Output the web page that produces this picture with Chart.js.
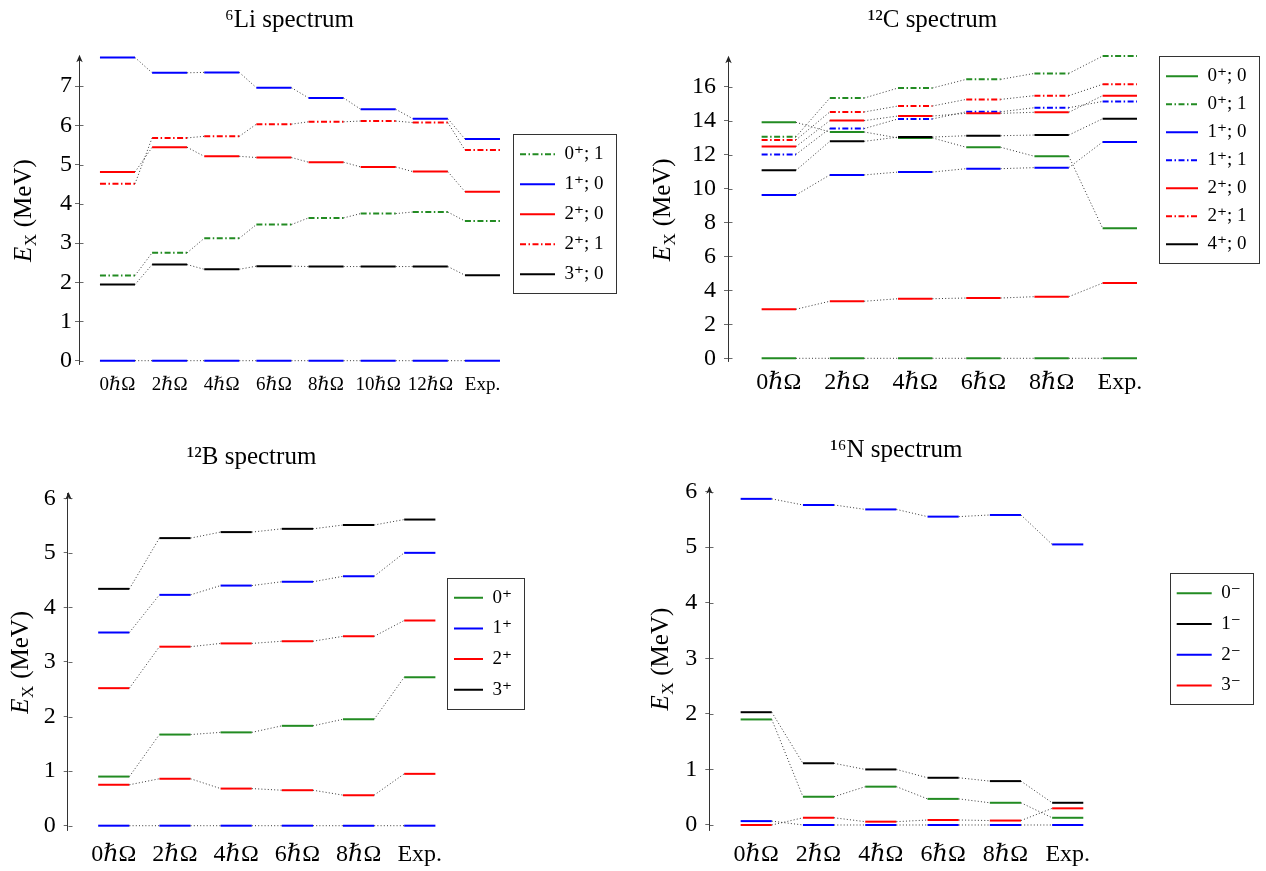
<!DOCTYPE html>
<html><head><meta charset="utf-8">
<script src="https://cdn.jsdelivr.net/npm/chart.js@4.4.0/dist/chart.umd.min.js"></script>
<style>
html,body{margin:0;padding:0;background:#fff;}
body{width:1266px;height:871px;position:relative;overflow:hidden;}
canvas{position:absolute;}
</style></head><body>
<canvas id="cLi" width="633" height="425" style="left:0px;top:0px;width:633px;height:425px"></canvas>
<canvas id="cC" width="633" height="425" style="left:633px;top:0px;width:633px;height:425px"></canvas>
<canvas id="cB" width="633" height="441" style="left:0px;top:430px;width:633px;height:441px"></canvas>
<canvas id="cN" width="633" height="441" style="left:633px;top:430px;width:633px;height:441px"></canvas>
<script>
// ---------- data ----------
const liCats = ['0ℏΩ','2ℏΩ','4ℏΩ','6ℏΩ','8ℏΩ','10ℏΩ','12ℏΩ','Exp.'];
const li_0p1 = [2.17, 2.75, 3.12, 3.47, 3.64, 3.75, 3.79, 3.56];
const li_1p0_ground = [0, 0, 0, 0, 0, 0, 0, 0];
const li_1p0 = [7.73, 7.34, 7.35, 6.96, 6.70, 6.41, 6.17, 5.65];
const li_2p0 = [4.81, 5.44, 5.21, 5.18, 5.06, 4.94, 4.82, 4.31];
const li_2p1 = [4.51, 5.68, 5.72, 6.03, 6.09, 6.11, 6.07, 5.37];
const li_3p0 = [1.94, 2.45, 2.33, 2.41, 2.40, 2.40, 2.40, 2.18];
const liYTicks = [0, 1, 2, 3, 4, 5, 6, 7];

const cCats = ['0ℏΩ','2ℏΩ','4ℏΩ','6ℏΩ','8ℏΩ','Exp.'];
const c_0p0_ground = [0, 0, 0, 0, 0, 0];
const c_0p0 = [13.90, 13.33, 12.98, 12.43, 11.90, 7.66];
const c_0p1 = [13.05, 15.33, 15.92, 16.43, 16.78, 17.80];
const c_1p0 = [9.62, 10.80, 10.97, 11.17, 11.23, 12.74];
const c_1p1 = [12.01, 13.53, 14.10, 14.52, 14.76, 15.13];
const c_2p0_low = [2.89, 3.36, 3.51, 3.55, 3.63, 4.43];
const c_2p0 = [12.47, 14.00, 14.27, 14.43, 14.49, 15.47];
const c_2p1 = [12.86, 14.51, 14.86, 15.25, 15.47, 16.14];
const c_4p0 = [11.07, 12.78, 13.03, 13.11, 13.15, 14.11];
const cYTicks = [0, 2, 4, 6, 8, 10, 12, 14, 16];

const bCats = ['0ℏΩ','2ℏΩ','4ℏΩ','6ℏΩ','8ℏΩ','Exp.'];
const b_0p = [0.90, 1.67, 1.71, 1.83, 1.95, 2.72];
const b_1p_ground = [0, 0, 0, 0, 0, 0];
const b_1p = [3.54, 4.23, 4.40, 4.47, 4.57, 5.00];
const b_2p_low = [0.75, 0.86, 0.68, 0.65, 0.56, 0.95];
const b_2p = [2.52, 3.28, 3.34, 3.38, 3.47, 3.76];
const b_3p = [4.34, 5.27, 5.38, 5.44, 5.51, 5.61];
const bYTicks = [0, 1, 2, 3, 4, 5, 6];

const nCats = ['0ℏΩ','2ℏΩ','4ℏΩ','6ℏΩ','8ℏΩ','Exp.'];
const n_0m = [1.90, 0.51, 0.69, 0.47, 0.40, 0.13];
const n_1m = [2.03, 1.11, 1.00, 0.85, 0.79, 0.40];
const n_2m_low = [0.07, 0, 0, 0, 0, 0];
const n_2m = [5.87, 5.76, 5.68, 5.55, 5.58, 5.05];
const n_3m = [0, 0.13, 0.06, 0.09, 0.08, 0.30];
const nYTicks = [0, 1, 2, 3, 4, 5, 6];

// ---------- styles ----------
const FAMILY = "'Liberation Serif', 'DejaVu Serif', serif";
const GREEN = 'rgb(34,139,34)', BLUE = '#0000ff', RED = '#ff0000', BLACK = '#000000';
const DASHDOT = [6, 2.5, 1.5, 2.5];
const SOLID = [];
const CONN_COLOR = '#222';
const CONN_DASH = [1, 2.2];
const LEG_FONT = 19;

const LI_SERIES = [
  {label: '0⁺; 1', color: GREEN, dash: DASHDOT, levels: [li_0p1]},
  {label: '1⁺; 0', color: BLUE, dash: SOLID, levels: [li_1p0_ground, li_1p0]},
  {label: '2⁺; 0', color: RED, dash: SOLID, levels: [li_2p0]},
  {label: '2⁺; 1', color: RED, dash: DASHDOT, levels: [li_2p1]},
  {label: '3⁺; 0', color: BLACK, dash: SOLID, levels: [li_3p0]}
];
const C_SERIES = [
  {label: '0⁺; 0', color: GREEN, dash: SOLID, levels: [c_0p0_ground, c_0p0]},
  {label: '0⁺; 1', color: GREEN, dash: DASHDOT, levels: [c_0p1]},
  {label: '1⁺; 0', color: BLUE, dash: SOLID, levels: [c_1p0]},
  {label: '1⁺; 1', color: BLUE, dash: DASHDOT, levels: [c_1p1]},
  {label: '2⁺; 0', color: RED, dash: SOLID, levels: [c_2p0_low, c_2p0]},
  {label: '2⁺; 1', color: RED, dash: DASHDOT, levels: [c_2p1]},
  {label: '4⁺; 0', color: BLACK, dash: SOLID, levels: [c_4p0]}
];
const B_SERIES = [
  {label: '0⁺', color: GREEN, dash: SOLID, levels: [b_0p]},
  {label: '1⁺', color: BLUE, dash: SOLID, levels: [b_1p_ground, b_1p]},
  {label: '2⁺', color: RED, dash: SOLID, levels: [b_2p_low, b_2p]},
  {label: '3⁺', color: BLACK, dash: SOLID, levels: [b_3p]}
];
const N_SERIES = [
  {label: '0⁻', color: GREEN, dash: SOLID, levels: [n_0m]},
  {label: '1⁻', color: BLACK, dash: SOLID, levels: [n_1m]},
  {label: '2⁻', color: BLUE, dash: SOLID, levels: [n_2m_low, n_2m]},
  {label: '3⁻', color: RED, dash: SOLID, levels: [n_3m]}
];

const PANELS = [
  {id: 'cLi', W: 633, title: '⁶Li spectrum', titlePad: {top: 5, bottom: 21.7}, cats: liCats, series: LI_SERIES,
   yTicks: liYTicks, yMin: -0.1, yMax: 7.75, xMin: -0.738, spacing: 52.14, halfW: 0.336,
   yW: 79, xH: 60.4, xFont: 19, xPad: 9, yPad: 3, legendLeft: 509, legPad: 11, pointW: 35, legTitleH: 77.1, yLabelOff: 56.5},
  {id: 'cC', W: 633, title: '¹²C spectrum', titlePad: {top: 5, bottom: 22.8}, cats: cCats, series: C_SERIES,
   yTicks: cYTicks, yMin: -0.2, yMax: 17.7, xMin: -0.745, spacing: 68.2, halfW: 0.252,
   yW: 95, xH: 63.3, xFont: 24, xPad: 7, yPad: 8, legendLeft: 524, legPad: 9, pointW: 32, legTitleH: 0, yLabelOff: 66},
  {id: 'cB', W: 633, title: '¹²B spectrum', titlePad: {top: 12, bottom: 21.9}, cats: bCats, series: B_SERIES,
   yTicks: bYTicks, yMin: -0.09, yMax: 6.08, xMin: -0.753, spacing: 61.2, halfW: 0.255,
   yW: 67.7, xH: 40.4, xFont: 24, xPad: 10, yPad: 8, legendLeft: 442.3, legPad: 11.7, pointW: 29, legTitleH: 82.6, yLabelOff: 47.7},
  {id: 'cN', W: 633, title: '¹⁶N spectrum', titlePad: {top: 5, bottom: 23.3}, cats: nCats, series: N_SERIES,
   yTicks: nYTicks, yMin: -0.09, yMax: 6.06, xMin: -0.753, spacing: 62.3, halfW: 0.25,
   yW: 76.3, xH: 41, xFont: 24, xPad: 10.6, yPad: 8, legendLeft: 532, legPad: 11.7, pointW: 35, legTitleH: 83.8, yLabelOff: 49.3}
];

// ---------- plugins ----------
const titleCenter = {
  id: 'titleCenter',
  afterLayout(chart, args, opts) {
    const t = chart.titleBlock, xs = chart.scales.x;
    if (!t || !xs) return;
    const left = chart.chartArea.left;
    const right = xs.getPixelForValue(opts.lastX);
    t.left = left; t.right = right; t.width = right - left;
  }
};

const axisDecor = {
  id: 'axisDecor',
  afterDraw(chart) {
    const ctx = chart.ctx, ca = chart.chartArea, ys = chart.scales.y;
    const x = Math.round(ca.left) + 0.5;
    ctx.save();
    ctx.strokeStyle = '#444'; ctx.lineWidth = 0.8;
    ys.ticks.forEach(t => {
      const py = Math.round(ys.getPixelForValue(t.value)) + 0.5;
      ctx.beginPath(); ctx.moveTo(x, py); ctx.lineTo(x + 4, py); ctx.stroke();
    });
    ctx.fillStyle = '#222';
    const top = ca.top;
    ctx.beginPath();
    ctx.moveTo(x, top - 2);
    ctx.lineTo(x - 3.2, top + 5.5);
    ctx.lineTo(x, top + 3.5);
    ctx.lineTo(x + 3.2, top + 5.5);
    ctx.closePath(); ctx.fill();
    ctx.restore();
  }
};

const yLabel = {
  id: 'yLabel',
  afterDraw(chart, args, opts) {
    const ctx = chart.ctx, ca = chart.chartArea;
    const cx = ca.left - opts.offset, cy = (ca.top + ca.bottom) / 2;
    ctx.save();
    ctx.translate(cx, cy); ctx.rotate(-Math.PI / 2);
    ctx.fillStyle = '#000'; ctx.textBaseline = 'alphabetic'; ctx.textAlign = 'left';
    const big = 'normal 25px ' + FAMILY, ital = 'italic 25px ' + FAMILY, small = 'normal 17px ' + FAMILY;
    ctx.font = ital; const wE = ctx.measureText('E').width;
    ctx.font = small; const wX = ctx.measureText('X').width;
    ctx.font = big; const wR = ctx.measureText(' (MeV)').width;
    let sx = -(wE + wX + 1 + wR) / 2;
    const base = 8;
    ctx.font = ital; ctx.fillText('E', sx, base); sx += wE + 0.5;
    ctx.font = small; ctx.fillText('X', sx, base + 5); sx += wX + 0.5;
    ctx.font = big; ctx.fillText(' (MeV)', sx, base);
    ctx.restore();
  }
};

const legendFrame = {
  id: 'legendFrame',
  afterDraw(chart) {
    const lg = chart.legend; const hb = lg && lg.legendHitBoxes;
    if (!hb || !hb.length) return;
    const ctx = chart.ctx;
    const left = Math.min(...hb.map(h => h.left)) - 7;
    const right = Math.max(...hb.map(h => h.left + h.width)) + 12;
    const top = hb[0].top + LEG_FONT / 2 - 20;
    const bottom = hb[hb.length - 1].top + LEG_FONT / 2 + 19;
    ctx.save();
    ctx.strokeStyle = '#333'; ctx.lineWidth = 1;
    ctx.strokeRect(Math.round(left) + 0.5, Math.round(top) + 0.5, Math.round(right - left), Math.round(bottom - top));
    ctx.restore();
  }
};

// ---------- builders ----------
function buildDatasets(series, halfW) {
  const ds = [];
  series.slice().reverse().forEach(s => {
    s.levels.forEach(vals => {
      const pts = [];
      vals.forEach((v, i) => {
        if (v === null || v === undefined) return;
        pts.push({x: i - halfW, y: v}, {x: i + halfW, y: v});
      });
      ds.push({
        label: s.label, data: pts, showLine: true,
        borderColor: s.color, backgroundColor: s.color, borderWidth: 2, borderDash: s.dash,
        borderCapStyle: 'butt', pointRadius: 0, pointHoverRadius: 0, tension: 0, fill: false, clip: false,
        segment: {
          borderColor: c => (c.p0DataIndex % 2 ? CONN_COLOR : undefined),
          borderDash: c => (c.p0DataIndex % 2 ? CONN_DASH : undefined),
          borderWidth: c => (c.p0DataIndex % 2 ? 0.9 : undefined)
        }
      });
    });
  });
  return ds;
}

function legendWidth(labels, pointW, pad) {
  const c = document.createElement('canvas').getContext('2d');
  c.font = 'normal ' + LEG_FONT + 'px ' + FAMILY;
  const maxW = Math.max(...labels.map(t => c.measureText(t).width));
  return pad + (pointW + LEG_FONT / 2 + maxW) + 10;
}

Chart.defaults.font.family = FAMILY;
Chart.defaults.color = '#000';

PANELS.forEach(p => {
  const labels = p.series.map(s => s.label);
  const lw = legendWidth(labels, p.pointW, p.legPad);
  const padRight = p.W - p.legendLeft - lw;
  const xMax = p.xMin + (p.legendLeft - p.yW) / p.spacing;
  new Chart(document.getElementById(p.id), {
    type: 'scatter',
    data: {datasets: buildDatasets(p.series, p.halfW)},
    plugins: [titleCenter, axisDecor, yLabel, legendFrame],
    options: {
      responsive: false, animation: false, devicePixelRatio: 1, events: [],
      layout: {padding: {left: 0, top: 0, bottom: 0, right: padRight}},
      scales: {
        x: {
          type: 'linear', min: p.xMin, max: xMax,
          afterBuildTicks: s => { s.ticks = p.cats.map((c, i) => ({value: i})); },
          afterFit: s => { s.height = p.xH; },
          ticks: {callback: v => p.cats[v], font: {size: p.xFont}, padding: p.xPad, autoSkip: false, maxRotation: 0, color: '#000'},
          grid: {display: false, drawTicks: false},
          border: {display: false}
        },
        y: {
          type: 'linear', min: p.yMin, max: p.yMax,
          afterBuildTicks: s => { s.ticks = p.yTicks.map(v => ({value: v})); },
          afterFit: s => { s.width = p.yW; },
          ticks: {font: {size: 24}, padding: p.yPad, color: '#000'},
          grid: {drawOnChartArea: false, drawTicks: true, tickLength: 4, color: '#444', lineWidth: 0.8},
          border: {display: true, color: '#333', width: 1}
        }
      },
      plugins: {
        title: {display: true, text: p.title, color: '#000', font: {size: 25, weight: 'normal'}, padding: p.titlePad},
        titleCenter: {lastX: p.cats.length - 1 + p.halfW},
        yLabel: {offset: p.yLabelOff},
        tooltip: {enabled: false},
        legend: {
          display: true, position: 'right', align: 'start', fullSize: false,
          onClick: () => {},
          title: {display: p.legTitleH > 0, text: '', font: {size: 1, lineHeight: 1}, padding: {top: Math.max(p.legTitleH - 1, 0), bottom: 0}},
          labels: {
            usePointStyle: true, pointStyle: 'line', pointStyleWidth: p.pointW, padding: p.legPad,
            font: {size: LEG_FONT}, color: '#000',
            generateLabels: () => p.series.map(s => ({
              text: s.label, strokeStyle: s.color, fillStyle: s.color, lineWidth: 2,
              lineDash: s.dash, pointStyle: 'line', fontColor: '#000', hidden: false
            }))
          }
        }
      }
    }
  });
});
</script>
</body></html>
